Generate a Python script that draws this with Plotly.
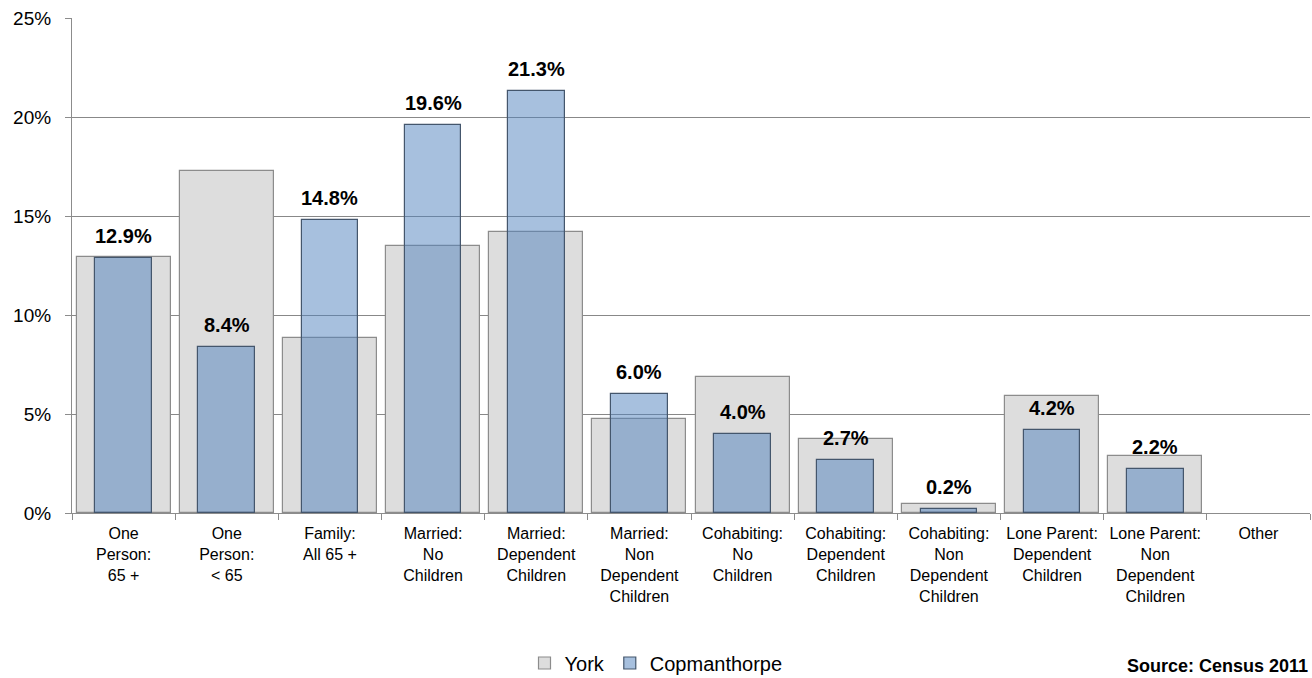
import plotly.graph_objects as go

categories = ["One<br>Person:<br>65 +", "One<br>Person:<br>< 65", "Family:<br>All 65 +",
              "Married:<br>No<br>Children", "Married:<br>Dependent<br>Children",
              "Married:<br>Non<br>Dependent<br>Children", "Cohabiting:<br>No<br>Children",
              "Cohabiting:<br>Dependent<br>Children", "Cohabiting:<br>Non<br>Dependent<br>Children",
              "Lone Parent:<br>Dependent<br>Children", "Lone Parent:<br>Non<br>Dependent<br>Children",
              "Other"]
york = [12.93, 17.27, 8.84, 13.48, 14.19, 4.75, 6.87, 3.74, 0.45, 5.91, 2.88, None]
copmanthorpe = [12.9, 8.4, 14.8, 19.6, 21.3, 6.0, 4.0, 2.7, 0.2, 4.2, 2.2, None]
cop_labels = ["12.9%", "8.4%", "14.8%", "19.6%", "21.3%", "6.0%", "4.0%", "2.7%", "0.2%", "4.2%", "2.2%", ""]
y_ticks = [0, 5, 10, 15, 20, 25]
y_ticktext = ["0%", "5%", "10%", "15%", "20%", "25%"]

W, H = 1312, 678
ml, mr, mt, mb = 72, 2, 18, 165
ph = H - mt - mb
FONT = "Liberation Sans, Arial, sans-serif"

fig = go.Figure()
fig.add_trace(go.Bar(
    x=categories, y=york, name="York", width=0.91,
    marker=dict(color="#DDDDDD", line=dict(color="#8C8C8C", width=1.2)),
    hoverinfo="skip",
))
fig.add_trace(go.Bar(
    x=categories, y=copmanthorpe, name="Copmanthorpe", width=0.55,
    marker=dict(color="rgba(79,129,189,0.5)", line=dict(color="#44566C", width=1.2)),
    hoverinfo="skip",
))

for cat, val, lab in zip(categories, copmanthorpe, cop_labels):
    if lab and val is not None:
        fig.add_annotation(
            x=cat, y=val, xref="x", yref="y", text="<b>" + lab + "</b>",
            showarrow=False, yanchor="bottom", xanchor="center", yshift=9,
            font=dict(family=FONT, size=20, color="#000000"),
        )

fig.update_layout(
    width=W, height=H,
    barmode="overlay",
    plot_bgcolor="white", paper_bgcolor="white",
    margin=dict(l=ml, r=mr, t=mt, b=mb, autoexpand=False),
    font=dict(family=FONT, color="#000000"),
    showlegend=True,
    legend=dict(orientation="h", x=(656 - ml) / (W - ml - mr), xanchor="center",
                y=-(663 - (H - mb)) / ph, yanchor="middle",
                font=dict(size=20), traceorder="normal",
                bgcolor="rgba(0,0,0,0)"),
    xaxis=dict(
        showgrid=False, showline=True, linecolor="#8C8C8C", linewidth=1.2,
        ticks="outside", tickson="boundaries", ticklen=6, tickcolor="#8C8C8C",
        tickfont=dict(size=16), tickangle=0, ticklabelstandoff=6,
        automargin=False,
    ),
    yaxis=dict(
        range=[0, 25], tickvals=y_ticks, ticktext=y_ticktext,
        showgrid=True, gridcolor="#888888", gridwidth=1.2,
        showline=True, linecolor="#8C8C8C", linewidth=1.2,
        ticks="outside", ticklen=6, tickcolor="#8C8C8C",
        tickfont=dict(size=19), zeroline=False, ticklabelstandoff=10,
        automargin=False,
    ),
    bargap=0,
)

fig.add_annotation(
    text="<b>Source: Census 2011</b>", xref="paper", yref="paper",
    x=(1310 - ml) / (W - ml - mr), xanchor="right", y=-(678 - (H - mb)) / ph, yanchor="bottom",
    showarrow=False, font=dict(family=FONT, size=18, color="#000000"),
)

fig.write_html("out.html", config={"displayModeBar": False},
               post_script="document.body.style.margin='0px';document.body.style.overflow='hidden';")
